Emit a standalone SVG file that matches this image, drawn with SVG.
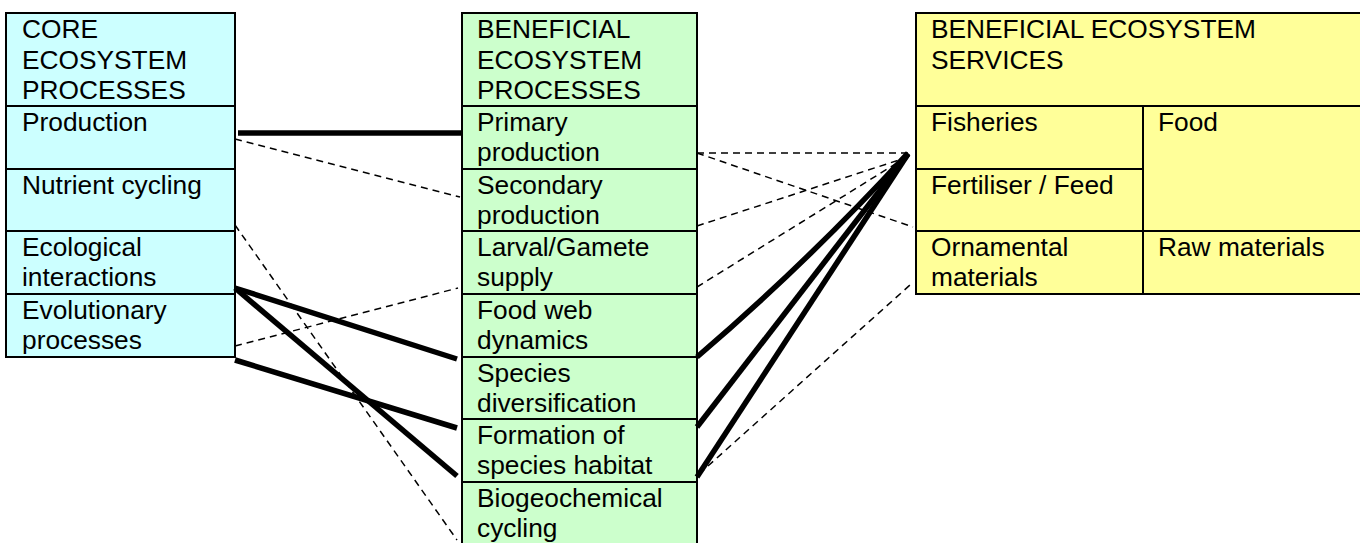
<svg xmlns="http://www.w3.org/2000/svg" width="1360" height="543" viewBox="0 0 1360 543">
<style>
  .cell-core { fill: #CCFFFF; stroke: #000; stroke-width: 2; }
  .cell-ben { fill: #CCFFCC; stroke: #000; stroke-width: 2; }
  .cell-svc { fill: #FFFF99; stroke: #000; stroke-width: 2; }
  text { font-family: "Liberation Sans", Arial, sans-serif; font-size: 26.3px; fill: #000; }
  .thick { stroke: #000; stroke-width: 5.5; fill: none; }
  .dash { stroke: #000; stroke-width: 1.5; stroke-dasharray: 7 5; fill: none; }
</style>
<rect width="1360" height="543" fill="#fff"/>

<g id="core">
  <g id="core-header"><rect class="cell-core" x="6" y="13" width="229" height="93"/>
    <text x="22" y="38">CORE</text><text x="22" y="69">ECOSYSTEM</text><text x="22" y="99">PROCESSES</text></g>
  <g id="core-production"><rect class="cell-core" x="6" y="106" width="229" height="63"/>
    <text x="22" y="131">Production</text></g>
  <g id="core-nutrient"><rect class="cell-core" x="6" y="169" width="229" height="62"/>
    <text x="22" y="194">Nutrient cycling</text></g>
  <g id="core-ecological"><rect class="cell-core" x="6" y="231" width="229" height="63"/>
    <text x="22" y="256">Ecological</text><text x="22" y="286">interactions</text></g>
  <g id="core-evolutionary"><rect class="cell-core" x="6" y="294" width="229" height="63"/>
    <text x="22" y="319">Evolutionary</text><text x="22" y="349">processes</text></g>
</g>

<g id="beneficial">
  <g id="ben-header"><rect class="cell-ben" x="462" y="13" width="235" height="93"/>
    <text x="477" y="38">BENEFICIAL</text><text x="477" y="69">ECOSYSTEM</text><text x="477" y="99">PROCESSES</text></g>
  <g id="ben-primary"><rect class="cell-ben" x="462" y="106" width="235" height="63"/>
    <text x="477" y="131">Primary</text><text x="477" y="161">production</text></g>
  <g id="ben-secondary"><rect class="cell-ben" x="462" y="169" width="235" height="62"/>
    <text x="477" y="194">Secondary</text><text x="477" y="224">production</text></g>
  <g id="ben-larval"><rect class="cell-ben" x="462" y="231" width="235" height="63"/>
    <text x="477" y="256">Larval/Gamete</text><text x="477" y="286">supply</text></g>
  <g id="ben-foodweb"><rect class="cell-ben" x="462" y="294" width="235" height="63"/>
    <text x="477" y="319">Food web</text><text x="477" y="349">dynamics</text></g>
  <g id="ben-species"><rect class="cell-ben" x="462" y="357" width="235" height="62"/>
    <text x="477" y="382">Species</text><text x="477" y="412">diversification</text></g>
  <g id="ben-habitat"><rect class="cell-ben" x="462" y="419" width="235" height="63"/>
    <text x="477" y="444">Formation of</text><text x="477" y="474">species habitat</text></g>
  <g id="ben-biogeo"><rect class="cell-ben" x="462" y="482" width="235" height="70"/>
    <text x="477" y="507">Biogeochemical</text><text x="477" y="537">cycling</text></g>
</g>

<g id="services">
  <g id="svc-header"><rect class="cell-svc" x="916" y="13" width="450" height="93"/>
    <text x="931" y="38">BENEFICIAL ECOSYSTEM</text><text x="931" y="69">SERVICES</text></g>
  <g id="svc-fisheries"><rect class="cell-svc" x="916" y="106" width="227" height="63"/>
    <text x="931" y="131">Fisheries</text></g>
  <g id="svc-fertiliser"><rect class="cell-svc" x="916" y="169" width="227" height="62"/>
    <text x="931" y="194">Fertiliser / Feed</text></g>
  <g id="svc-food"><rect class="cell-svc" x="1143" y="106" width="223" height="125"/>
    <text x="1158" y="131">Food</text></g>
  <g id="svc-ornamental"><rect class="cell-svc" x="916" y="231" width="227" height="63"/>
    <text x="931" y="256">Ornamental</text><text x="931" y="286">materials</text></g>
  <g id="svc-raw"><rect class="cell-svc" x="1143" y="231" width="223" height="63"/>
    <text x="1158" y="256">Raw materials</text></g>
</g>

<g id="connectors">
  <path class="thick" d="M238,133 H461"/>
  <path class="dash" d="M235,139 L460,197"/>
  <path class="dash" d="M235,225 L457,540"/>
  <path class="thick" d="M235,288 L457,359"/>
  <path class="thick" d="M235,288 L457,476"/>
  <path class="dash" d="M235,346 L458,288"/>
  <path class="thick" d="M235,360 L457,428"/>

  <path class="dash" d="M697,153 H908"/>
  <path class="dash" d="M697,153 L913,227"/>
  <path class="dash" d="M697,226 L905,158"/>
  <path class="dash" d="M697,287 L905,158"/>
  <path class="thick" d="M697,357 Q808,262 908,153"/>
  <path class="thick" d="M697,427 L908,154"/>
  <path class="thick" d="M697,477 L908,154"/>
  <path class="dash" d="M699,474 L910,285"/>
</g>
</svg>
